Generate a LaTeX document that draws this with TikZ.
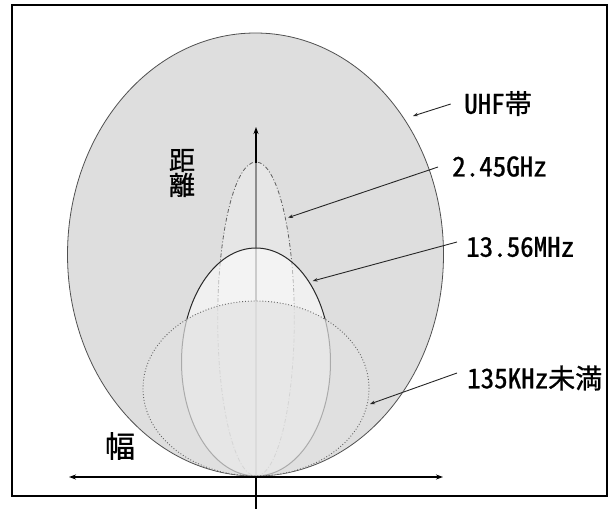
\documentclass[tikz,border=0pt]{standalone}
\usepackage{fontspec}
\setmainfont{Noto Sans CJK JP}[RawFeature={+hwid}]
\newfontfamily\lblfont{Noto Sans CJK JP}[RawFeature={+hwid}, FakeBold=1]
\usetikzlibrary{arrows.meta}
\definecolor{uhffill}{RGB}{222,222,222}
\definecolor{edgeuhf}{RGB}{80,80,80}
\definecolor{edgeghz}{RGB}{95,95,95}
\definecolor{edgemhz}{RGB}{40,40,40}
\definecolor{edgekhz}{RGB}{100,100,100}
\definecolor{kfill}{RGB}{226,226,226}
\tikzset{
  lbl/.style={inner sep=0pt, anchor=west, font=\lblfont\fontsize{27pt}{30pt}\selectfont},
  leader/.style={draw=black!85, line width=0.9pt, -{Stealth[length=5pt,width=3.6pt]}},
  axisline/.style={draw=black, line width=2pt},
  axishead/.style={-{Stealth[length=7pt,width=5pt]}},
}
\begin{document}
\begin{tikzpicture}[x=1pt,y=-1pt]
\useasboundingbox (0,0) rectangle (611,509);
% frame
\draw[line width=1.8pt] (12,5) rectangle (607,496);
% UHF ellipse
\draw[fill=uhffill, draw=edgeuhf, line width=0.8pt] (255.5,254.5) ellipse [x radius=188pt, y radius=221.5pt];
% 2.45 GHz
\draw[fill=white, fill opacity=0.25, draw=edgeghz, line width=0.8pt,
      dash pattern=on 4pt off 2pt on 1pt off 2pt] (256,319) ellipse [x radius=38.3pt, y radius=157pt];
% vertical axis (grey part inside shapes)
\draw[draw=black!45, line width=2pt] (256,162) -- (256,476);
% 13.56 MHz
\draw[fill=white, fill opacity=0.55, draw=edgemhz, line width=1pt] (256,362) ellipse [x radius=74.5pt, y radius=114pt];
% 135 KHz
\draw[fill=kfill, fill opacity=0.7, draw=edgekhz, line width=0.9pt, dotted] (256,388.5) ellipse [x radius=113pt, y radius=87.5pt];
% axes
\coordinate (vtop) at (256,127);
\coordinate (vmid) at (256,163);
\coordinate (vbot) at (256,476.5);
\coordinate (vend) at (256,509);
\coordinate (hl) at (69,477);
\coordinate (hr) at (443,477);
\draw[axisline, axishead] (vmid) -- (vtop);
\draw[axisline] (vbot) -- (vend);
\draw[axisline, {Stealth[length=7pt,width=5pt]}-{Stealth[length=7pt,width=5pt]}] (hl) -- (hr);
% axis labels
\node[inner sep=0pt, align=center, font=\lblfont\fontsize{26pt}{21pt}\selectfont] (dist) at (182,173) {距\\離};
\node[inner sep=0pt, font=\lblfont\fontsize{30pt}{30pt}\selectfont] (width) at (120,446) {幅};
% labels
\node[lbl] (lUHF) at (464,103.5) {UHF帯};
\node[lbl] (lGHz) at (452,166.5) {2.45GHz};
\node[lbl] (lMHz) at (466,247) {13.56MHz};
\node[lbl] (lKHz) at (467,378) {135KHz未満};
% leader ends
\coordinate (sUHF) at (450.7,104);
\coordinate (eUHF) at (413,116);
\coordinate (sGHz) at (438,167);
\coordinate (eGHz) at (288,217.7);
\coordinate (sMHz) at (457,242);
\coordinate (eMHz) at (312.7,281);
\coordinate (sKHz) at (457,373);
\coordinate (eKHz) at (370,404);
\draw[leader] (sUHF) -- (eUHF);
\draw[leader] (sGHz) -- (eGHz);
\draw[leader] (sMHz) -- (eMHz);
\draw[leader] (sKHz) -- (eKHz);
\end{tikzpicture}
\end{document}
